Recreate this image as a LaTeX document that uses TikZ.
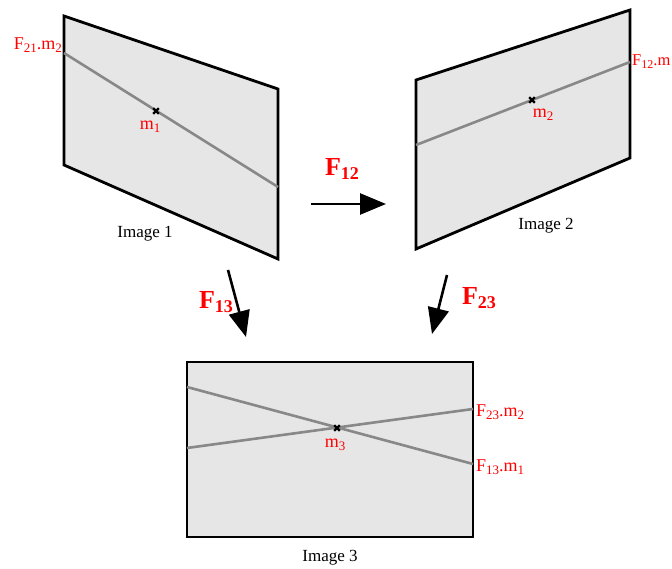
\documentclass[tikz,border=0pt]{standalone}
\usepackage{fontspec}
\setmainfont{Liberation Serif}
\usetikzlibrary{arrows.meta}
\definecolor{panel}{HTML}{E6E6E6}
\definecolor{epi}{HTML}{888888}
\definecolor{lab}{HTML}{FF0000}
\newcommand{\lsub}[1]{\raisebox{-0.38ex}{\fontsize{13}{14}\selectfont #1}}
\newcommand{\fsub}[1]{\raisebox{-0.35ex}{\fontsize{18}{20}\selectfont #1}}
\tikzset{
  panelbox/.style={draw=black, fill=panel, line width=2.8pt, line join=miter},
  epiline/.style={draw=epi, line width=2.6pt},
  redlab/.style={text=lab, font=\fontsize{18}{20}\selectfont, inner sep=1pt},
  caption/.style={font=\fontsize{17}{19}\selectfont, inner sep=0pt},
  flab/.style={text=lab, font=\fontsize{26}{28}\selectfont\bfseries, inner sep=0pt},
  bigarrow/.style={line width=2.6pt, -{Triangle[length=26pt,width=21pt]}},
}
\newcommand{\crossat}[1]{\draw[line width=2.2pt] ([shift={(-2.8,-2.8)}]#1) -- ([shift={(2.8,2.8)}]#1) ([shift={(-2.8,2.8)}]#1) -- ([shift={(2.8,-2.8)}]#1);}
\begin{document}
\begin{tikzpicture}[x=1pt,y=-1pt]
\useasboundingbox (0,0) rectangle (672,569);
% Image 1
\draw[panelbox] (64,16) -- (278,89) -- (278,259) -- (64,165) -- cycle;
\coordinate (l1a) at (64,53);
\coordinate (l1b) at (278,187);
\draw[epiline] (l1a) -- (l1b);
\coordinate (m1) at (156,111);
\crossat{m1}
\node[redlab] (m1l) at (150,127) {m\lsub{1}};
\node[redlab, anchor=east] (f21) at (63,45) {F\lsub{21}.m\lsub{2}};
\node[caption] (cap1) at (145,234) {Image 1};
% Image 2
\draw[panelbox] (416,80) -- (630,10) -- (630,158) -- (416,249) -- cycle;
\coordinate (l2a) at (416,145);
\coordinate (l2b) at (630,62);
\draw[epiline] (l2a) -- (l2b);
\coordinate (m2) at (532,100);
\crossat{m2}
\node[redlab] (m2l) at (543,115) {m\lsub{2}};
\node[redlab, anchor=west, inner sep=0pt, font=\fontsize{16.5}{18}\selectfont] (f12m) at (632,62) {F\raisebox{-0.38ex}{\fontsize{12}{13}\selectfont 12}.m};
\node[caption] (cap2) at (546,226) {Image 2};
% Image 3
\draw[panelbox] (187,362) rectangle (473,537);
\coordinate (l3a) at (187,387);
\coordinate (l3b) at (473,464);
\coordinate (l3c) at (187,448);
\coordinate (l3d) at (473,409);
\draw[epiline] (l3a) -- (l3b);
\draw[epiline] (l3c) -- (l3d);
\coordinate (m3) at (337,428);
\crossat{m3}
\node[redlab] (m3l) at (335,445) {m\lsub{3}};
\node[redlab, anchor=west] (f23) at (475,412) {F\lsub{23}.m\lsub{2}};
\node[redlab, anchor=west] (f13) at (475,467) {F\lsub{13}.m\lsub{1}};
\node[caption] (cap3) at (330,558) {Image 3};
% arrows
\coordinate (a12s) at (311,204);
\coordinate (a12e) at (386,204);
\draw[bigarrow] (a12s) -- (a12e);
\node[flab] (lf12) at (342,169) {F\fsub{12}};
\coordinate (a13s) at (228,270);
\coordinate (a13e) at (246,337);
\draw[bigarrow] (a13s) -- (a13e);
\node[flab] (lf13) at (216,302) {F\fsub{13}};
\coordinate (a23s) at (447,275);
\coordinate (a23e) at (432,334);
\draw[bigarrow] (a23s) -- (a23e);
\node[flab] (lf23) at (479,298) {F\fsub{23}};
\end{tikzpicture}
\end{document}
